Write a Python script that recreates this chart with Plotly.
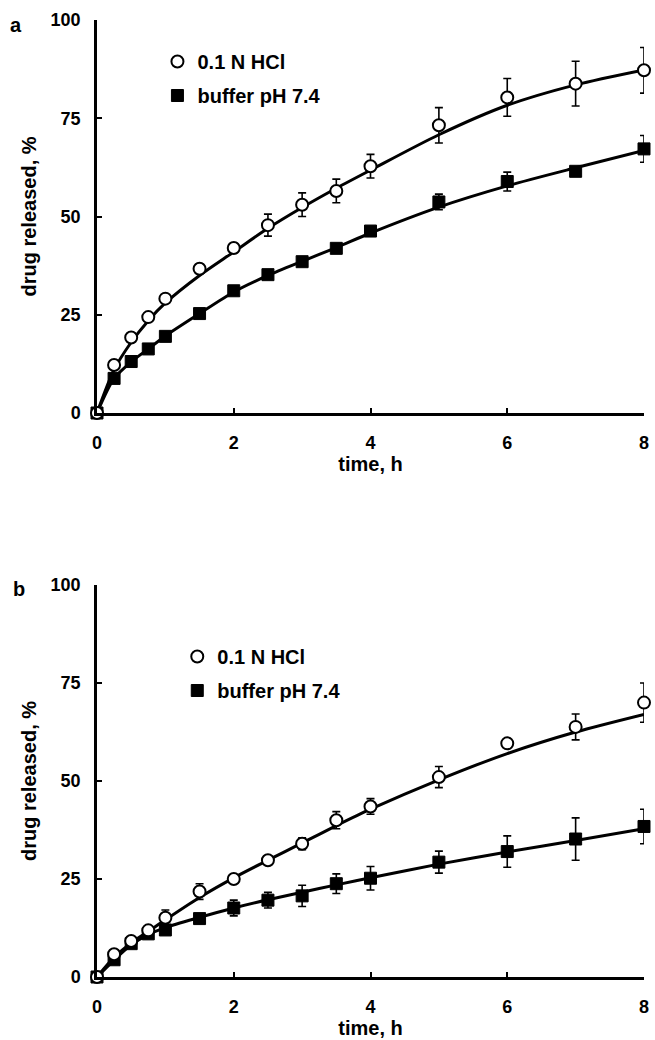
import plotly.graph_objects as go

# ---------------- data ----------------
time_h = [0, 0.25, 0.5, 0.75, 1, 1.5, 2, 2.5, 3, 3.5, 4, 5, 6, 7, 8]

# panel a
a_hcl = [0, 12.2, 19.2, 24.4, 29.1, 36.7, 42.0, 47.8, 53.0, 56.5, 62.8, 73.2, 80.3, 83.8, 87.2]
a_hcl_err = [0, 0.8, 1.0, 1.0, 1.0, 1.2, 1.2, 2.8, 3.0, 3.0, 3.0, 4.5, 4.8, 5.7, 5.8]
a_buf = [0, 8.8, 13.1, 16.3, 19.5, 25.3, 31.1, 35.2, 38.5, 41.9, 46.3, 53.7, 58.9, 61.5, 67.2]
a_buf_err = [0, 0.5, 0.5, 0.5, 0.5, 0.5, 0.8, 0.8, 0.8, 0.9, 0.5, 2.0, 2.4, 0.8, 3.4]
a_hcl_fit = [0, 11.0, 18.0, 23.5, 28.0, 35.0, 41.0, 47.0, 52.3, 57.2, 61.8, 70.8, 78.3, 83.5, 87.3]
a_buf_fit = [0, 8.8, 13.0, 16.3, 19.6, 25.3, 30.8, 35.0, 38.6, 42.1, 45.8, 52.4, 57.8, 62.4, 66.8]

# panel b
b_hcl = [0, 5.8, 9.2, 11.9, 15.1, 21.8, 25.0, 29.8, 34.0, 40.0, 43.5, 51.0, 59.6, 63.8, 70.0]
b_hcl_err = [0, 0.5, 0.6, 0.6, 2.0, 2.0, 0.8, 1.0, 1.5, 2.2, 2.0, 2.7, 0.5, 3.3, 5.0]
b_buf = [0, 4.4, 8.5, 11.0, 12.0, 14.9, 17.6, 19.6, 20.7, 23.8, 25.2, 29.3, 32.0, 35.2, 38.4]
b_buf_err = [0, 0.5, 0.5, 0.5, 0.8, 1.0, 2.0, 2.0, 2.7, 2.5, 3.0, 2.8, 4.0, 5.4, 4.4]
b_hcl_fit = [0, 5.0, 8.7, 11.6, 14.6, 20.3, 25.3, 29.8, 34.2, 38.6, 42.8, 50.3, 57.0, 62.5, 67.0]
b_buf_fit = [0, 4.3, 8.2, 10.8, 12.6, 15.2, 17.6, 19.7, 21.6, 23.5, 25.3, 28.8, 31.9, 34.8, 37.8]

x_ticks = [0, 2, 4, 6, 8]
y_ticks = [0, 25, 50, 75, 100]
label_hcl = "0.1 N HCl"
label_buf = "buffer pH 7.4"

# ---------------- figure ----------------
W, H = 655, 1040
ML, MR, MT, MB = 97, 6, 20, 63
PW = W - ML - MR
PH = H - MT - MB

FONT = "Liberation Sans, Arial, sans-serif"
BLACK = "#000000"

def py(px):  # pixel y (from top) -> paper y
    return (H - MB - px) / PH

def pxx(px):  # pixel x -> paper x
    return (px - ML) / PW

fig = go.Figure()

def add_panel(xa, ya, hcl, hcl_err, buf, buf_err, hcl_fit, buf_fit, legend):
    for fit in (hcl_fit, buf_fit):
        fig.add_trace(go.Scatter(
            x=time_h, y=fit, mode="lines", line=dict(color=BLACK, width=3, shape="spline", smoothing=0.8),
            showlegend=False, hoverinfo="skip", xaxis=xa, yaxis=ya, cliponaxis=False))
    fig.add_trace(go.Scatter(
        x=time_h, y=buf, mode="markers", name=label_buf,
        marker=dict(symbol="square", size=12, color=BLACK, line=dict(color=BLACK, width=1)),
        error_y=dict(type="data", array=buf_err, visible=True, color=BLACK, thickness=1.6, width=4),
        xaxis=xa, yaxis=ya, cliponaxis=False, legend=legend, legendgroup="buf" + legend, legendrank=2))
    fig.add_trace(go.Scatter(
        x=time_h, y=hcl, mode="markers", name=label_hcl,
        marker=dict(symbol="circle", size=12, color="white", line=dict(color=BLACK, width=2)),
        error_y=dict(type="data", array=hcl_err, visible=True, color=BLACK, thickness=1.6, width=4),
        xaxis=xa, yaxis=ya, cliponaxis=False, legend=legend, legendgroup="hcl" + legend, legendrank=1))

add_panel("x", "y", a_hcl, a_hcl_err, a_buf, a_buf_err, a_hcl_fit, a_buf_fit, "legend")
add_panel("x2", "y2", b_hcl, b_hcl_err, b_buf, b_buf_err, b_hcl_fit, b_buf_fit, "legend2")

axis_common = dict(
    showline=True, linecolor=BLACK, linewidth=2.5, ticks="inside", ticklen=5, tickwidth=2,
    tickcolor=BLACK, showgrid=False, zeroline=False, mirror=False,
    tickfont=dict(family=FONT, size=18, color=BLACK, weight="bold"),
)
xaxis_common = dict(axis_common, range=[0, 8], tickvals=x_ticks, ticklabelstandoff=12,
                    title=dict(text="<b>time, h</b>", font=dict(family=FONT, size=20, color=BLACK), standoff=0))
yaxis_common = dict(axis_common, range=[0, 100], tickvals=y_ticks, ticklabelstandoff=10,
                    title=dict(text="<b>drug released, %</b>", font=dict(family=FONT, size=20, color=BLACK), standoff=9))

legend_common = dict(
    font=dict(family=FONT, size=20, color=BLACK, weight="bold"),
    bgcolor="rgba(0,0,0,0)", borderwidth=0, traceorder="grouped", tracegroupgap=5,
    itemwidth=30, xanchor="left", yanchor="top",
)

fig.update_layout(
    width=W, height=H, autosize=False,
    margin=dict(l=ML, r=MR, t=MT, b=MB),
    paper_bgcolor="white", plot_bgcolor="white",
    showlegend=True,
    xaxis=dict(xaxis_common, domain=[0, 1], anchor="y"),
    yaxis=dict(yaxis_common, domain=[py(413), 1], anchor="x"),
    xaxis2=dict(xaxis_common, domain=[0, 1], anchor="y2"),
    yaxis2=dict(yaxis_common, domain=[0, py(585)], anchor="x2"),
    legend=dict(legend_common, x=pxx(158), y=py(42)),
    legend2=dict(legend_common, x=pxx(178), y=py(637)),
    annotations=[
        dict(text="<b>a</b>", x=pxx(15), y=py(25), xref="paper", yref="paper", showarrow=False,
             font=dict(family=FONT, size=20, color=BLACK), xanchor="center", yanchor="middle"),
        dict(text="<b>b</b>", x=pxx(18), y=py(589), xref="paper", yref="paper", showarrow=False,
             font=dict(family=FONT, size=20, color=BLACK), xanchor="center", yanchor="middle"),
    ],
)

fig.write_html("out.html", config={"displayModeBar": False},
               post_script="document.body.style.margin='0';document.body.style.overflow='hidden';")
